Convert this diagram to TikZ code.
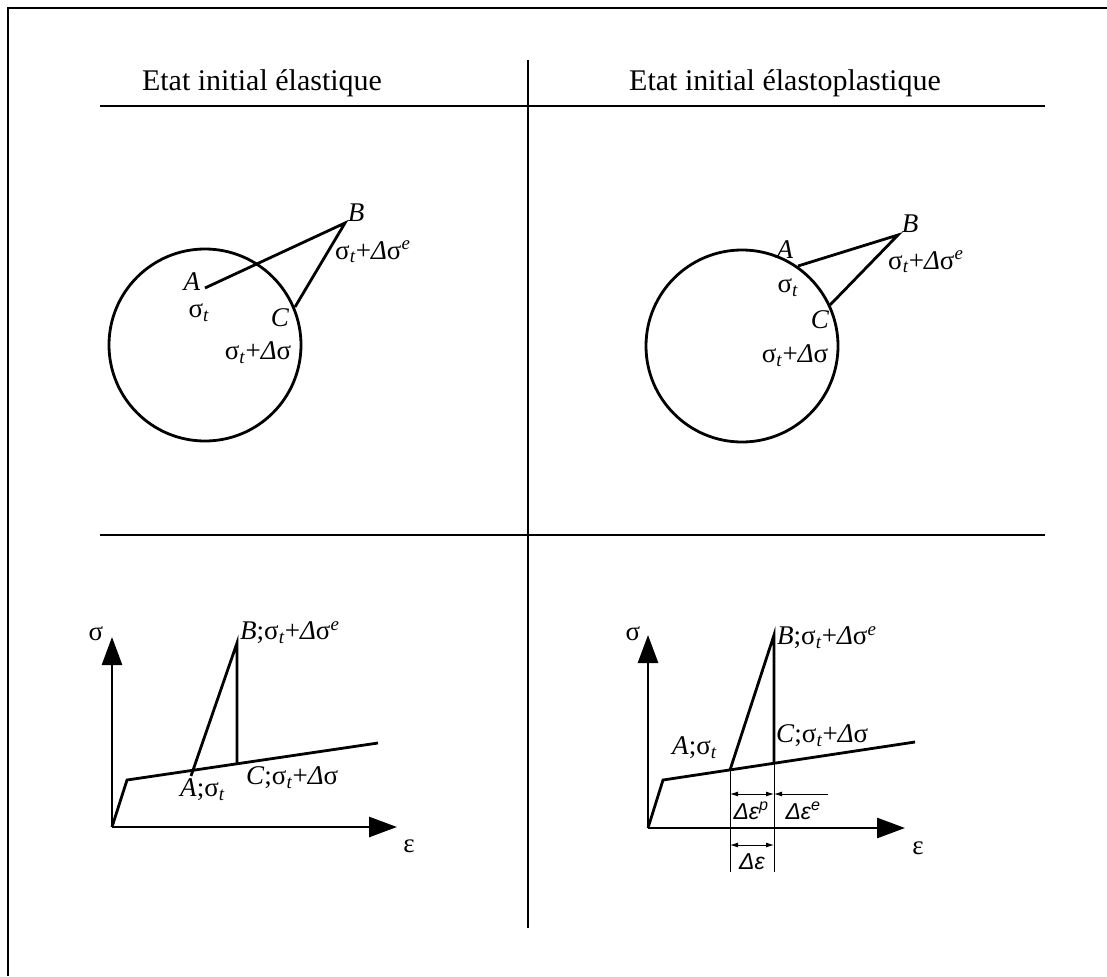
\documentclass[tikz,border=0pt]{standalone}
\usepackage{fontspec}
\setmainfont{Liberation Serif}
\newfontfamily\sansf{Liberation Sans}
\usetikzlibrary{arrows.meta}
\newcommand{\sgt}{σ\textsubscript{\textit{t}}}
\newcommand{\sgtd}{σ\textsubscript{\textit{t}}+\textit{Δ}σ}
\newcommand{\sgtde}{σ\textsubscript{\textit{t}}+\textit{Δ}σ\textsuperscript{\textit{e}}}
\begin{document}
\begin{tikzpicture}[x=1pt,y=-1pt,
  frame/.style={line width=2.6pt},
  sep/.style={line width=1.8pt},
  fig/.style={line width=2.8pt, line join=miter},
  thin/.style={line width=0.9pt},
  axis/.style={line width=2.8pt, -{Triangle[length=28pt,width=20pt]}},
  dim/.style={line width=0.9pt, {Latex[length=8pt,width=5pt]}-{Latex[length=8pt,width=5pt]}},
  dimL/.style={line width=0.9pt, {Latex[length=8pt,width=5pt]}-},
  lbl/.style={inner sep=0pt, font=\fontsize{27}{31}\selectfont},
  dlbl/.style={inner sep=0pt, font=\sansf\itshape\fontsize{23}{27}\selectfont},
  ttl/.style={inner sep=0pt, font=\fontsize{30}{34}\selectfont}]
\useasboundingbox (0,0) rectangle (1107,976);
% frame
\coordinate (TL) at (8,8);
\coordinate (TR) at (1107,8);
\coordinate (BL) at (8,976);
\draw[frame] (TR) -- (TL) -- (BL);
% separators
\coordinate (D1) at (528,60);
\coordinate (D2) at (528,928);
\draw[sep] (D1) -- (D2);
\coordinate (H1a) at (100,106);
\coordinate (H1b) at (1045,106);
\draw[sep] (H1a) -- (H1b);
\coordinate (H2a) at (100,535);
\coordinate (H2b) at (1045,535);
\draw[sep] (H2a) -- (H2b);
% titles
\node[ttl, anchor=base] (t1) at (262,91) {Etat initial élastique};
\node[ttl, anchor=base] (t2) at (785,91) {Etat initial élastoplastique};

% ---------- top left: circle ----------
\node[draw, circle, fig, minimum size=192pt, inner sep=0pt] (cL) at (205,345) {};
\coordinate (A1) at (205,288);
\coordinate (B1) at (345,223);
\coordinate (C1) at (295,307);
\draw[fig] (A1) -- (B1) -- (C1);
\node[lbl] (lA1) at (192,282) {\textit{A}};
\node[lbl] (ls1) at (199,313) {\sgt};
\node[lbl] (lB1) at (356,213) {\textit{B}};
\node[lbl, anchor=west] (lBs1) at (335,252) {\sgtde};
\node[lbl] (lC1) at (280,318) {\textit{C}};
\node[lbl] (lCs1) at (258,353) {\sgtd};

% ---------- top right: circle ----------
\node[draw, circle, fig, minimum size=192pt, inner sep=0pt] (cR) at (742,346) {};
\coordinate (A2) at (798,266);
\coordinate (B2) at (898,235);
\coordinate (C2) at (830,305);
\draw[fig] (A2) -- (B2) -- (C2);
\node[lbl] (lA2) at (785,250) {\textit{A}};
\node[lbl] (ls2) at (788,288) {\sgt};
\node[lbl] (lB2) at (910,224) {\textit{B}};
\node[lbl, anchor=west] (lBs2) at (888,262) {\sgtde};
\node[lbl] (lC2) at (820,320) {\textit{C}};
\node[lbl] (lCs2) at (795,356) {\sgtd};

% ---------- bottom left ----------
\coordinate (O1) at (112,827);
\coordinate (Y1) at (112,637);
\coordinate (X1) at (397,827);
\draw[axis] (O1) -- (Y1);
\draw[axis] (O1) -- (X1);
\coordinate (K1) at (127,780);
\coordinate (E1) at (378,743);
\draw[fig] (O1) -- (K1) -- (E1);
\coordinate (A3) at (191,776);
\coordinate (B3) at (237,643);
\coordinate (C3) at (237,763);
\draw[fig] (A3) -- (B3) -- (C3);
\node[lbl] (lsig1) at (96,634) {σ};
\node[lbl] (leps1) at (409,846) {ε};
\node[lbl, anchor=west] (lB3) at (240,633) {\textit{B};\sgtde};
\node[lbl, anchor=west] (lA3) at (180,790) {\textit{A};\sgt};
\node[lbl, anchor=west] (lC3) at (246,778) {\textit{C};\sgtd};

% ---------- bottom right ----------
\coordinate (O2) at (648,828);
\coordinate (Y2) at (648,635);
\coordinate (X2) at (905,828);
\draw[axis] (O2) -- (Y2);
\draw[axis] (O2) -- (X2);
\coordinate (K2) at (663,780);
\coordinate (E2) at (915,742);
\draw[fig] (O2) -- (K2) -- (E2);
\coordinate (A4) at (730,770);
\coordinate (B4) at (774,635);
\coordinate (C4) at (774,763);
\draw[fig] (A4) -- (B4) -- (C4);
\coordinate (A4b) at (730,872);
\coordinate (C4b) at (774,872);
\draw[thin] (A4) -- (A4b);
\draw[thin] (C4) -- (C4b);
\coordinate (P1) at (730,794);
\coordinate (P2) at (774,794);
\coordinate (P3) at (828,794);
\draw[dim] (P1) -- (P2);
\draw[dimL] (P2) -- (P3);
\coordinate (Q1) at (730,845);
\coordinate (Q2) at (774,845);
\draw[dim] (Q1) -- (Q2);
\node[dlbl] (ldp) at (751,811) {Δε\textsuperscript{p}};
\node[dlbl] (lde) at (803,811) {Δε\textsuperscript{e}};
\node[dlbl] (ld) at (752,862) {Δε};
\node[lbl] (lsig2) at (633,634) {σ};
\node[lbl] (leps2) at (918,848) {ε};
\node[lbl, anchor=west] (lB4) at (777,638) {\textit{B};\sgtde};
\node[lbl, anchor=west] (lA4) at (672,748) {\textit{A};\sgt};
\node[lbl, anchor=west] (lC4) at (776,736) {\textit{C};\sgtd};
\end{tikzpicture}
\end{document}
